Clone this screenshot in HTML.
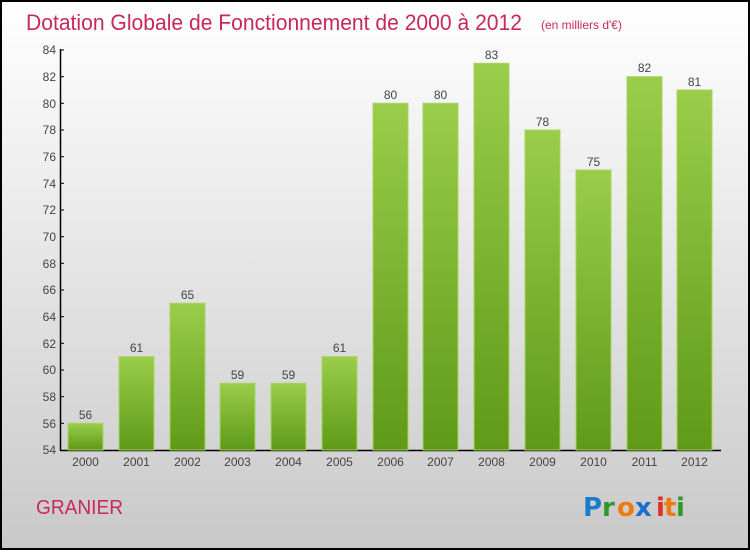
<!DOCTYPE html>
<html><head><meta charset="utf-8"><style>
html,body{margin:0;padding:0;}
body{width:750px;height:550px;overflow:hidden;}
</style></head><body>
<svg width="750" height="550" xmlns="http://www.w3.org/2000/svg" font-family="Liberation Sans, sans-serif">
<defs>
<linearGradient id="bg" x1="0" y1="0" x2="0" y2="1">
<stop offset="0" stop-color="#ffffff"/><stop offset="1" stop-color="#c9c9c9"/>
</linearGradient>
<linearGradient id="bar" x1="0" y1="0" x2="0" y2="1">
<stop offset="0" stop-color="#9acd4a"/><stop offset="1" stop-color="#5e9a18"/>
</linearGradient>
</defs>
<rect x="1" y="1" width="748" height="548" fill="url(#bg)" stroke="#000" stroke-width="2"/>
<text x="26" y="30" font-size="22" fill="#c8285c" textLength="496" lengthAdjust="spacingAndGlyphs">Dotation Globale de Fonctionnement de 2000 à 2012</text>
<text x="541" y="29" font-size="12" fill="#c8285c">(en milliers d'€)</text>
<g font-size="12" fill="#444" text-anchor="end">
<text x="56" y="54">84</text><text x="56" y="81">82</text><text x="56" y="108">80</text><text x="56" y="134">78</text><text x="56" y="161">76</text><text x="56" y="188">74</text><text x="56" y="214">72</text><text x="56" y="241">70</text><text x="56" y="268">68</text><text x="56" y="294">66</text><text x="56" y="321">64</text><text x="56" y="348">62</text><text x="56" y="374">60</text><text x="56" y="401">58</text><text x="56" y="428">56</text><text x="56" y="454">54</text>
</g>
<g stroke="#000" stroke-width="1">
<line x1="61" y1="50" x2="64" y2="50"/><line x1="61" y1="76.7" x2="64" y2="76.7"/><line x1="61" y1="103.3" x2="64" y2="103.3"/><line x1="61" y1="130" x2="64" y2="130"/><line x1="61" y1="156.7" x2="64" y2="156.7"/><line x1="61" y1="183.3" x2="64" y2="183.3"/><line x1="61" y1="210" x2="64" y2="210"/><line x1="61" y1="236.7" x2="64" y2="236.7"/><line x1="61" y1="263.3" x2="64" y2="263.3"/><line x1="61" y1="290" x2="64" y2="290"/><line x1="61" y1="316.7" x2="64" y2="316.7"/><line x1="61" y1="343.3" x2="64" y2="343.3"/><line x1="61" y1="370" x2="64" y2="370"/><line x1="61" y1="396.7" x2="64" y2="396.7"/><line x1="61" y1="423.3" x2="64" y2="423.3"/>
</g>
<line x1="60.5" y1="49" x2="60.5" y2="451" stroke="#000" stroke-width="1.5"/>
<line x1="60" y1="450.5" x2="721" y2="450.5" stroke="#000" stroke-width="1.5"/>
<g fill="url(#bar)" stroke="#a6d65c" stroke-width="1">
<rect x="68" y="423.3" width="35" height="26.7"/>
<rect x="119" y="356.7" width="35" height="93.3"/>
<rect x="170" y="303.3" width="35" height="146.7"/>
<rect x="220" y="383.3" width="35" height="66.7"/>
<rect x="271" y="383.3" width="35" height="66.7"/>
<rect x="322" y="356.7" width="35" height="93.3"/>
<rect x="373" y="103.3" width="35" height="346.7"/>
<rect x="423" y="103.3" width="35" height="346.7"/>
<rect x="474" y="63.3" width="35" height="386.7"/>
<rect x="525" y="130" width="35" height="320"/>
<rect x="576" y="170" width="35" height="280"/>
<rect x="627" y="76.7" width="35" height="373.3"/>
<rect x="677" y="90" width="35" height="360"/>
</g>
<g font-size="12" fill="#444" text-anchor="middle">
<text x="85.5" y="419">56</text><text x="136.5" y="352">61</text><text x="187.5" y="299">65</text><text x="237.5" y="379">59</text><text x="288.5" y="379">59</text><text x="339.5" y="352">61</text><text x="390.5" y="99">80</text><text x="440.5" y="99">80</text><text x="491.5" y="59">83</text><text x="542.5" y="126">78</text><text x="593.5" y="166">75</text><text x="644.5" y="72">82</text><text x="694.5" y="86">81</text>
</g>
<g font-size="12" fill="#444" text-anchor="middle">
<text x="85.5" y="466">2000</text><text x="136.5" y="466">2001</text><text x="187.5" y="466">2002</text><text x="237.5" y="466">2003</text><text x="288.5" y="466">2004</text><text x="339.5" y="466">2005</text><text x="390.5" y="466">2006</text><text x="440.5" y="466">2007</text><text x="491.5" y="466">2008</text><text x="542.5" y="466">2009</text><text x="593.5" y="466">2010</text><text x="644.5" y="466">2011</text><text x="694.5" y="466">2012</text>
</g>
<text x="36" y="514" font-size="20" fill="#c8285c" textLength="87" lengthAdjust="spacingAndGlyphs">GRANIER</text>
<g font-size="26" font-weight="bold" font-family="DejaVu Sans, sans-serif">
<text x="583" y="516" fill="#1a7ccf">P</text><text x="602" y="516" fill="#2e9a2e">r</text><text x="617" y="516" fill="#f07a10">o</text><text x="635" y="516" fill="#1a6fd0">x</text><text x="656" y="516" fill="#e03020">i</text><text x="664" y="516" fill="#f07a10">t</text><text x="676" y="516" fill="#2e9a2e">i</text>
</g>
</svg>
</body></html>
